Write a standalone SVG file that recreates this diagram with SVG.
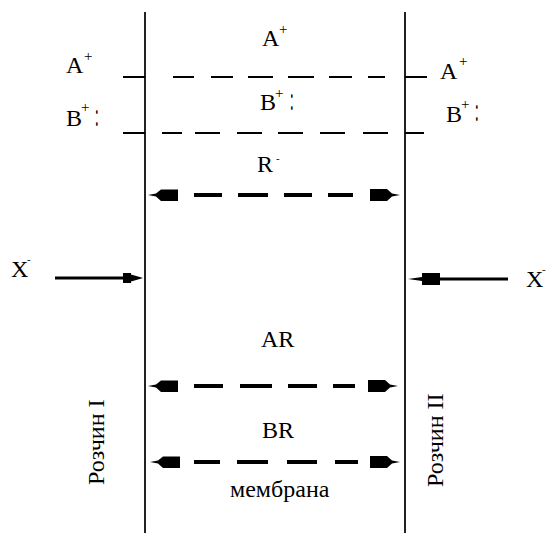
<svg xmlns="http://www.w3.org/2000/svg" xmlns:xlink="http://www.w3.org/1999/xlink" width="550" height="533" viewBox="0 0 550 533">
<style>
text{font-family:"Liberation Serif","Times New Roman",serif;fill:#000}
.t{font-size:24px}
.sup{font-size:15px}
.col{font-size:13px}
.mi{font-size:11px}
.mem{stroke:#222;stroke-width:2;fill:none}
.hl{stroke:#000;stroke-width:2;fill:none}
.da{stroke:#000;stroke-width:4;fill:none}
.xl{stroke:#000;stroke-width:3;fill:none}
.hd{fill:#000}
</style>
<defs>
<path id="hL" d="M0,0 L8,-1.5 L13,-5.5 L30,-5.5 L30,6 L13,6 L8,1.5 Z"/>
<path id="hR" d="M0,0 L-8,-1.5 L-13,-6 L-30,-6 L-30,6 L-13,6 L-8,1.5 Z"/>
<path id="xR" d="M0,0 L-5,-1.5 L-12,-3.5 L-12,-5 L-20,-5 L-20,5 L-12,5 L-12,3.5 L-5,1.5 Z"/>
<path id="xL" d="M0,0 L14,-2 L14,-6 L32,-6 L32,6 L14,6 L14,2 Z"/>
</defs>
<rect width="550" height="533" fill="#fff"/>

<g id="membrane">
<line class="mem" x1="145" y1="12" x2="145" y2="533"/>
<line class="mem" x1="405" y1="12" x2="405" y2="533"/>
</g>

<g id="connectors">
<path class="hl" d="M123,77H145M173,77H194M211,77H233M248,77H273M288,77H314M329,77H352M368,77H385M405,77H427"/>
<path class="hl" d="M123,133H145M162,133H182M195,133H220M237,133H262M278,133H303M320,133H345M363,133H388M405,133H424"/>
<g id="arrow-R">
<path class="da" d="M194,195H222M238,195H268M284,195H312M328,195H353"/>
<use href="#hL" xlink:href="#hL" class="hd" x="148" y="195"/>
<use href="#hR" xlink:href="#hR" class="hd" x="400" y="195"/>
</g>
<g id="arrow-AR">
<path class="da" d="M194,386H223M240,386H272M288,386H317M333,386H355"/>
<use href="#hL" xlink:href="#hL" class="hd" x="148" y="386"/>
<use href="#hR" xlink:href="#hR" class="hd" x="398" y="386"/>
</g>
<g id="arrow-BR">
<path class="da" d="M194,462H220M237,462H268M287,462H317M335,462H358"/>
<use href="#hL" xlink:href="#hL" class="hd" x="150" y="462"/>
<use href="#hR" xlink:href="#hR" class="hd" x="400" y="462"/>
</g>
<g id="arrow-X-left">
<line class="xl" x1="55" y1="278" x2="124" y2="278"/>
<use href="#xR" xlink:href="#xR" class="hd" x="143" y="278"/>
</g>
<g id="arrow-X-right">
<line class="xl" x1="438" y1="279" x2="508" y2="279"/>
<use href="#xL" xlink:href="#xL" class="hd" x="408" y="279"/>
</g>
</g>

<g id="label-A-left"><text class="t" x="66" y="73">A</text><text class="sup" x="84" y="61">+</text></g>
<g id="label-B-left"><text class="t" x="66" y="126">B</text><text class="sup" x="81" y="112">+</text><text class="col" transform="translate(95,126) scale(1,2.6)">:</text></g>
<g id="label-A-center"><text class="t" x="262" y="46">A</text><text class="sup" x="279" y="34">+</text></g>
<g id="label-B-center"><text class="t" x="260" y="110">B</text><text class="sup" x="275" y="98">+</text><text class="col" transform="translate(290,110) scale(1,2.6)">:</text></g>
<g id="label-A-right"><text class="t" x="440" y="79">A</text><text class="sup" x="459" y="66">+</text></g>
<g id="label-B-right"><text class="t" x="446" y="122">B</text><text class="sup" x="461" y="109">+</text><text class="col" transform="translate(475,121) scale(1,2.6)">:</text></g>
<g id="label-R"><text class="t" x="257" y="172">R</text><text class="mi" x="276" y="162">-</text></g>
<g id="label-X-left"><text class="t" x="11" y="277">X</text><text class="mi" x="27" y="263">-</text></g>
<g id="label-X-right"><text class="t" x="526" y="287">X</text><text class="mi" x="542" y="273">-</text></g>
<g id="label-AR"><text class="t" x="261" y="347">AR</text></g>
<g id="label-BR"><text class="t" x="262" y="438">BR</text></g>
<g id="label-membrane"><text class="t" x="230" y="497">мембрана</text></g>
<g id="label-solution-1"><text class="t" transform="translate(104,485) rotate(-90)">Розчин I</text></g>
<g id="label-solution-2"><text class="t" transform="translate(443,487) rotate(-90)">Розчин II</text></g>
</svg>
